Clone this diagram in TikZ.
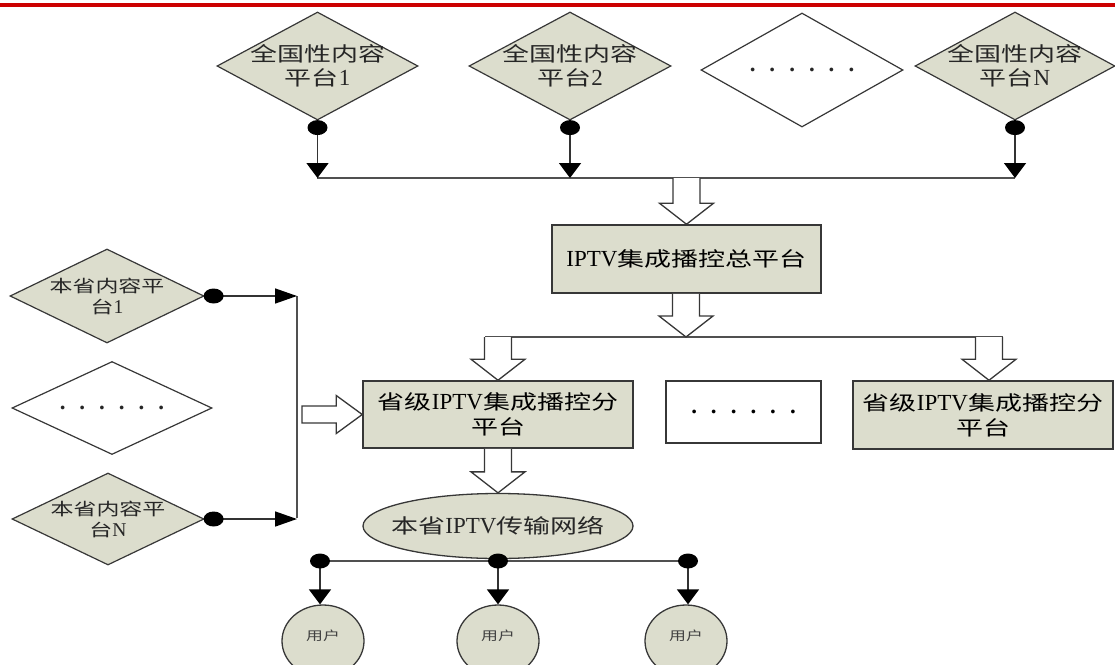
\documentclass[tikz,border=0pt]{standalone}
\usepackage{fontspec}
\newfontfamily\cjk{Noto Sans CJK SC}[FakeStretch=1.35]
\newfontfamily\lat{Liberation Serif}[Scale=1.15]
\usetikzlibrary{shapes.geometric,arrows.meta,calc}
\definecolor{boxfill}{RGB}{220,221,205}
\definecolor{edge}{RGB}{55,55,55}
\definecolor{wire}{RGB}{80,80,80}
\definecolor{topred}{RGB}{204,0,0}
\newcommand\dotrow{{\lat\bfseries\fontsize{20}{24}\selectfont .\kern14pt.\kern14pt.\kern14pt.\kern14pt.\kern14pt.}}
\begin{document}
\begin{tikzpicture}[x=1pt,y=-1pt,
  dia/.style={diamond,draw=edge,line width=1.2pt,fill=boxfill,inner sep=0pt},
  box/.style={rectangle,draw=edge,line width=1.5pt,fill=boxfill,inner sep=0pt,align=center,
    font=\cjk\fontsize{20}{25}\selectfont},
  big/.style={font=\cjk\fontsize{20}{24}\selectfont,align=center,text=black!85},
  small/.style={font=\cjk\fontsize{17}{21}\selectfont,align=center,text=black!85},
  user/.style={ellipse,draw=edge,line width=1.3pt,fill=boxfill,minimum width=82pt,
    minimum height=72pt,inner sep=0pt},
  usertext/.style={font=\cjk\fontsize{12.5}{14}\selectfont,text=black!75,yshift=5pt},
  wireline/.style={draw=wire,line width=1.5pt},
  arr/.style={draw=black!80,line width=1.5pt,-{Triangle[length=15pt,width=22pt,color=black]}},
  harr/.style={draw=black!80,line width=1.5pt,-{Triangle[length=22pt,width=15pt,color=black]}},
  hollow/.style={draw=edge,line width=1.3pt,fill=white,line join=miter},
  hdown/.style={hollow,to path={let \p1=(\tikztostart),\p2=(\tikztotarget) in
    (\x2-13.5pt,\y1) -- (\x2-13.5pt,\y2+21pt) -- (\x2-27pt,\y2+21pt) -- (\x2,\y2)
    -- (\x2+27pt,\y2+21pt) -- (\x2+13.5pt,\y2+21pt) -- (\x2+13.5pt,\y1)}},
  hright/.style={hollow,to path={let \p1=(\tikztostart),\p2=(\tikztotarget) in
    (\x1,\y2+8.5pt) -- (\x2-26pt,\y2+8.5pt) -- (\x2-26pt,\y2+19pt) -- (\x2,\y2)
    -- (\x2-26pt,\y2-19pt) -- (\x2-26pt,\y2-8.5pt) -- (\x1,\y2-8.5pt) -- cycle}},
  jdot/.style={fill=black}
]
\useasboundingbox (0,0) rectangle (1115,664);
\fill[topred] (0,3) rectangle (1115,7);

% national content platforms
\node[dia,minimum width=201pt,minimum height=108pt,
  label={[big]center:全国性内容\\平台{\lat 1}}] (d1) at (317.5,66) {};
\node[dia,minimum width=202pt,minimum height=108pt,
  label={[big]center:全国性内容\\平台{\lat 2}}] (d2) at (570,66) {};
\node[dia,fill=white,minimum width=202pt,minimum height=114pt,
  label={[big]center:\dotrow}] (d3) at (802,70) {};
\node[dia,minimum width=200pt,minimum height=108pt,
  label={[big]center:全国性内容\\平台{\lat N}}] (d4) at (1015,66) {};

% provincial content platforms
\node[dia,minimum width=194pt,minimum height=94pt,
  label={[small]center:本省内容平\\台{\lat 1}}] (l1) at (107,296) {};
\node[dia,fill=white,minimum width=200pt,minimum height=93pt,
  label={[small]center:\dotrow}] (l2) at (112,408) {};
\node[dia,minimum width=192pt,minimum height=92pt,
  label={[small]center:本省内容平\\台{\lat N}}] (l3) at (108,519) {};

% platforms
\node[box,minimum width=269pt,minimum height=68pt] (b1) at (686.5,259)
  {{\lat IPTV}集成播控总平台};
\node[box,minimum width=270pt,minimum height=67pt] (b2) at (498,414.5)
  {省级{\lat IPTV}集成播控分\\平台};
\node[box,fill=white,minimum width=155pt,minimum height=62pt] (bd) at (743.5,412) {\dotrow};
\node[box,minimum width=260pt,minimum height=68pt] (b3) at (983,415)
  {省级{\lat IPTV}集成播控分\\平台};

% network and users
\node[ellipse,draw=edge,line width=1.3pt,fill=boxfill,minimum width=270pt,minimum height=65pt,
  inner sep=0pt,label={[big]center:本省{\lat IPTV}传输网络}] (net) at (498,526) {};
\node[user,label={[usertext]center:用户}] (u1) at (323,641) {};
\node[user,label={[usertext]center:用户}] (u2) at (498,641) {};
\node[user,label={[usertext]center:用户}] (u3) at (686,641) {};

% junction coordinates
\coordinate (busL) at (317,178);
\coordinate (busR) at (1015,178);
\coordinate (busM) at (684,178);
\coordinate (l2L) at (485,337);
\coordinate (l2R) at (1002.5,337);
\coordinate (l2M) at (686,337);
\coordinate (brT) at (297,296);
\coordinate (brB) at (297,518);
\coordinate (brM) at (302,414.5);
\coordinate (bb1) at (320,561);
\coordinate (bb2) at (498,561);
\coordinate (bb3) at (688,561);
\coordinate (p1) at ($(d1.south)+(0,7)$);
\coordinate (p2) at ($(d2.south)+(0,7)$);
\coordinate (p4) at ($(d4.south)+(0,7)$);
\coordinate (q1) at ($(l1.east)+(9,0)$);
\coordinate (q3) at ($(l3.east)+(9,0)$);

% top bus
\draw[wireline] (busL) -- (busR);
\draw[arr] (p1) -- (p1 |- busL);
\draw[arr] (p2) -- (p2 |- busL);
\draw[arr] (p4) -- (p4 |- busL);

% left bracket
\draw[wireline] (brT) -- (brB);
\draw[harr] (q1) -- (q1 -| brT);
\draw[harr] (q3) -- (q3 -| brB);

% second bus
\draw[wireline] (l2L) -- (l2R);

% bottom bus
\draw[wireline] (bb1) -- (bb3);
\draw[arr] (bb1) -- (bb1 |- u1.north);
\draw[arr] (bb2) -- (bb2 |- u2.north);
\draw[arr] (bb3) -- (bb3 |- u3.north);

% hollow arrows
\draw[hdown] (busM) to (b1.north);
\draw[hdown] (b1.south) to (l2M);
\draw[hdown] (l2L) to (b2.north);
\draw[hdown] (l2R) to ($(b3.north)+(6,0)$);
\draw[hdown] (b2.south) to (net.north);
\draw[hright] (brM) to (b2.west);

% junction dots
\foreach \c in {p1,p2,p4,q1,q3,bb1,bb2,bb3}
  \fill[jdot] (\c) ellipse [x radius=10pt, y radius=7.5pt];
\end{tikzpicture}
\end{document}
